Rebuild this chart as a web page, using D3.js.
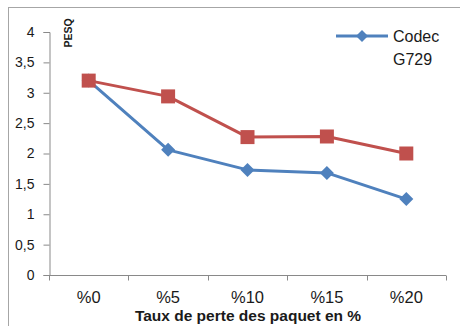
<!DOCTYPE html>
<html>
<head>
<meta charset="utf-8">
<script src="https://cdn.jsdelivr.net/npm/d3@7"></script>
<style>
  html, body { margin: 0; padding: 0; background: #fff; }
  svg { display: block; }
  text { font-family: "Liberation Sans", Arial, sans-serif; fill: #1a1a1a; }
</style>
</head>
<body>
<svg id="chart" width="460" height="326"></svg>
<script>
// Packet loss rates (x categories)
const categories = ["%0", "%5", "%10", "%15", "%20"];
// PESQ scores per loss rate
const g729Values = [3.2, 2.06, 1.73, 1.68, 1.25];
const otherValues = [3.2, 2.94, 2.27, 2.28, 2.0];
const yTicks = [0, 0.5, 1, 1.5, 2, 2.5, 3, 3.5, 4];
const legendLabel = ["Codec", "G729"];
const xTitle = "Taux de perte des paquet en %";
const yTitle = "PESQ";

const svg = d3.select("#chart");
const blue = "#4F81BD", red = "#C0504D", axisGray = "#898989";

// outer chart frame
svg.append("rect")
  .attr("x", 8.5).attr("y", 7.5)
  .attr("width", 470).attr("height", 340)
  .attr("fill", "none").attr("stroke", "#a6a6a6").attr("stroke-width", 1);

const x = d3.scaleBand().domain(categories).range([49, 446]);
const y = d3.scaleLinear().domain([0, 4]).range([275, 32]);

const fmt = d => String(d).replace(".", ",");

// y axis
const yAxis = svg.append("g").attr("transform", "translate(49.5,0)")
  .call(d3.axisLeft(y).tickValues(yTicks).tickFormat(fmt).tickSize(6).tickPadding(9));
yAxis.select(".domain").attr("stroke", axisGray);
yAxis.selectAll(".tick line").attr("stroke", axisGray);
yAxis.selectAll(".tick text").attr("font-size", 14).attr("fill", "#1a1a1a")
  .attr("font-family", "Liberation Sans, Arial, sans-serif");

// x axis with ticks at band boundaries
const xAxisG = svg.append("g").attr("transform", "translate(0,275.5)");
xAxisG.append("line")
  .attr("x1", x.range()[0]).attr("x2", x.range()[1])
  .attr("stroke", axisGray);
const boundaries = categories.map(c => x(c)).concat([x.range()[1]]);
xAxisG.selectAll(".xt").data(boundaries).join("line")
  .attr("x1", d => Math.round(d) + 0.5).attr("x2", d => Math.round(d) + 0.5)
  .attr("y1", 0).attr("y2", 5).attr("stroke", axisGray);
xAxisG.selectAll(".xl").data(categories).join("text")
  .attr("x", d => x(d) + x.bandwidth() / 2)
  .attr("y", 27)
  .attr("text-anchor", "middle")
  .attr("font-size", 16.5)
  .text(d => d);

// axis titles
svg.append("text")
  .attr("x", 248).attr("y", 321)
  .attr("text-anchor", "middle")
  .attr("font-size", 15.5).attr("font-weight", "bold")
  .text(xTitle);
svg.append("text")
  .attr("transform", "translate(72,33) rotate(-90)")
  .attr("text-anchor", "middle")
  .attr("font-size", 10.5).attr("font-weight", "bold")
  .text(yTitle);

const cx = c => x(c) + x.bandwidth() / 2;
const line = d3.line().x((d, i) => cx(categories[i])).y(d => y(d));

// blue series (G729) drawn first, red on top
svg.append("path").datum(g729Values)
  .attr("d", line).attr("fill", "none")
  .attr("stroke", blue).attr("stroke-width", 3).attr("stroke-linejoin", "round");
svg.selectAll(".dia").data(g729Values).join("path")
  .attr("transform", (d, i) => `translate(${cx(categories[i])},${y(d)})`)
  .attr("d", "M0,-7L7,0L0,7L-7,0Z")
  .attr("fill", blue);

svg.append("path").datum(otherValues)
  .attr("d", line).attr("fill", "none")
  .attr("stroke", red).attr("stroke-width", 3).attr("stroke-linejoin", "round");
svg.selectAll(".sq").data(otherValues).join("rect")
  .attr("x", (d, i) => cx(categories[i]) - 7)
  .attr("y", d => y(d) - 7)
  .attr("width", 14).attr("height", 14)
  .attr("fill", red);

// legend
const lg = svg.append("g");
lg.append("line").attr("x1", 336).attr("x2", 388).attr("y1", 36).attr("y2", 36)
  .attr("stroke", blue).attr("stroke-width", 3);
lg.append("path").attr("transform", "translate(362,36)")
  .attr("d", "M0,-6L6,0L0,6L-6,0Z").attr("fill", blue);
lg.selectAll(".lt").data(legendLabel).join("text")
  .attr("x", 393).attr("y", (d, i) => 42 + i * 23)
  .attr("font-size", 16)
  .text(d => d);
</script>
</body>
</html>
